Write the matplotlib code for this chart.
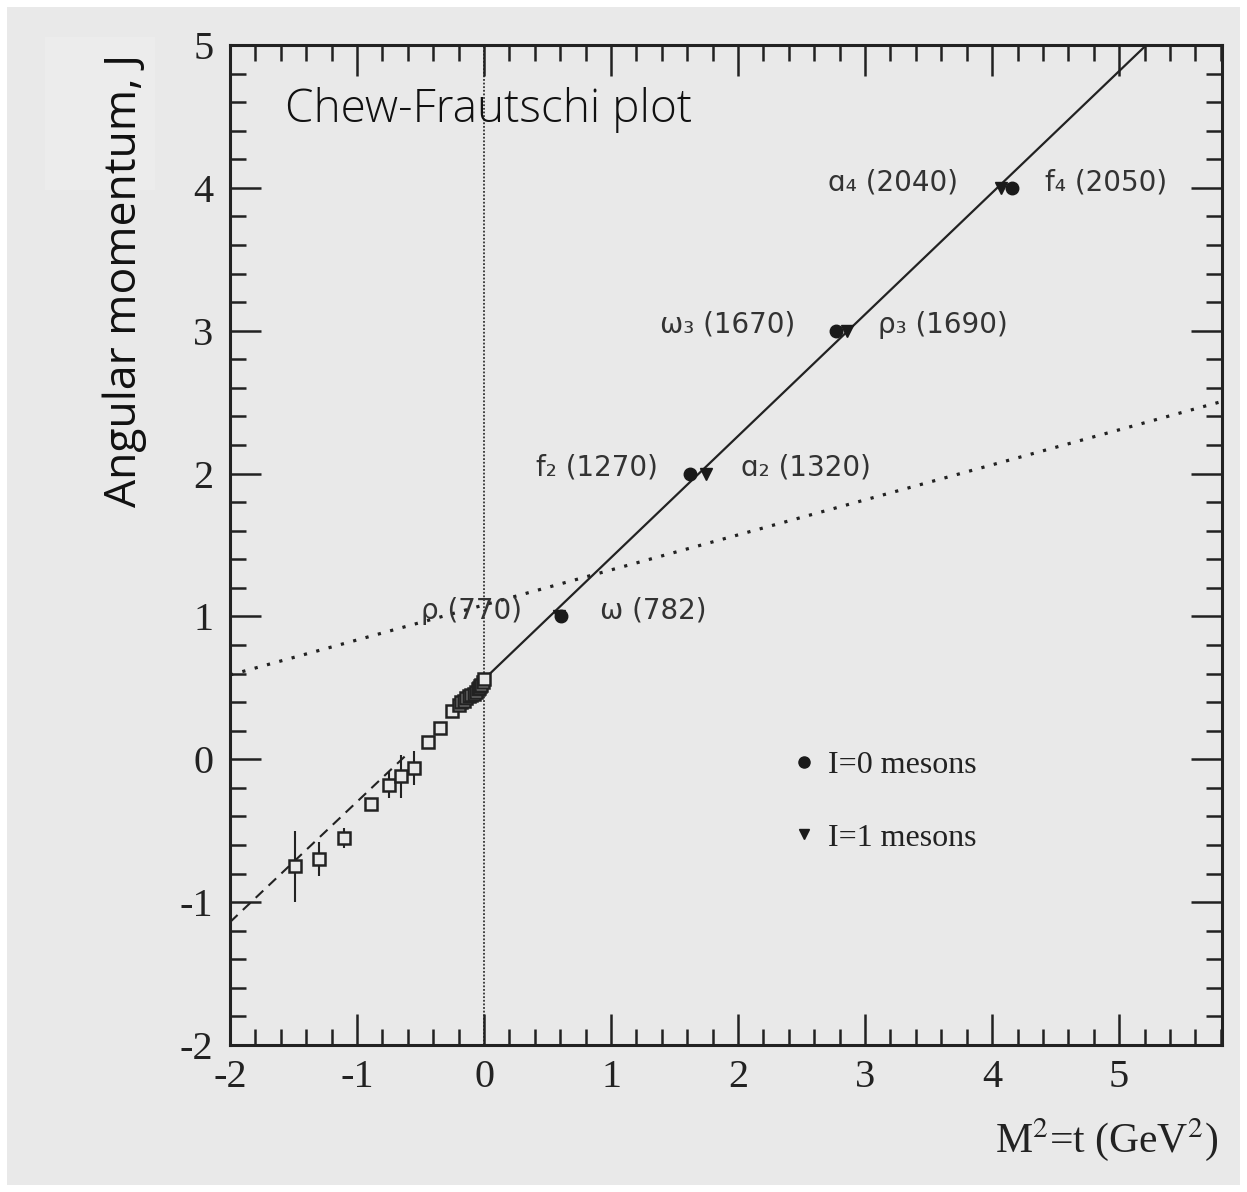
import matplotlib
matplotlib.use("Agg")
import matplotlib.pyplot as plt
import numpy as np
from matplotlib.lines import Line2D
from matplotlib.patches import Rectangle
from matplotlib.ticker import MultipleLocator

plt.rcParams["axes.unicode_minus"] = False

# scattering data (t < 0), open squares
t_data = [-1.49, -1.30, -1.10, -0.89, -0.75, -0.65, -0.55, -0.44, -0.35, -0.25,
          -0.20, -0.18, -0.16, -0.14, -0.12, -0.10, -0.08, -0.065, -0.05, -0.04,
          -0.03, -0.02, -0.01, 0.0]
j_data = [-0.75, -0.70, -0.55, -0.31, -0.18, -0.12, -0.06, 0.12, 0.22, 0.34,
          0.38, 0.40, 0.41, 0.43, 0.44, 0.45, 0.46, 0.47, 0.49, 0.50,
          0.51, 0.52, 0.54, 0.56]
j_err = [0.25, 0.12, 0.07, 0.03, 0.09, 0.15, 0.12, 0.02, 0.02, 0.02,
         0.02, 0.02, 0.02, 0.02, 0.02, 0.02, 0.02, 0.02, 0.02, 0.02,
         0.02, 0.02, 0.02, 0.02]

# mesons, M^2 in GeV^2
i0_m2 = [0.606, 1.62, 2.77, 4.16]
i0_j = [1, 2, 3, 4]
i1_m2 = [0.59, 1.75, 2.86, 4.07]
i1_j = [1, 2, 3, 4]

# trajectories (end points)
rho_t = [0.0, 5.25]
rho_j = [0.56, 5.03]
dash_t = [-2.0, -0.6]
dash_j = [-1.14, 0.04]
pom_t = [-2.0, 5.81]
pom_j = [0.59, 2.505]

labels_left = [("ρ (770)", 0.30, 1.04), ("f₂ (1270)", 1.37, 2.04),
               ("ω₃ (1670)", 2.45, 3.04), ("ɑ₄ (2040)", 3.73, 4.04)]
labels_right = [("ω (782)", 0.91, 1.04), ("ɑ₂ (1320)", 2.02, 2.04),
                ("ρ₃ (1690)", 3.10, 3.04), ("f₄ (2050)", 4.42, 4.04)]

bg = "#e9e9e9"
fig = plt.figure(figsize=(12.47, 11.92), dpi=100, facecolor="white")
fig.patches.append(Rectangle((0.006, 0.006), 0.988, 0.988, transform=fig.transFigure,
                             facecolor=bg, edgecolor="none", zorder=-10))
fig.patches.append(Rectangle((45 / 1247, 1 - 190 / 1192), 110 / 1247, 153 / 1192,
                             transform=fig.transFigure, facecolor="#ececec",
                             edgecolor="none", zorder=-9))
ax = fig.add_axes([230 / 1247, 147 / 1192, 992 / 1247, 1000 / 1192])
ax.set_facecolor(bg)

ax.set_xlim(-2, 5.81)
ax.set_ylim(-2, 5)

ax.axvline(0, color="#333333", lw=1.3, ls=(0, (1, 1)), zorder=1)
ax.plot(pom_t, pom_j, color="#222222", lw=2.3, ls=(0, (1, 3)), zorder=2)
ax.plot(rho_t, rho_j, color="#222222", lw=1.6, zorder=2)
ax.plot(dash_t, dash_j, color="#222222", lw=1.5, ls=(0, (5, 3.5)), zorder=2)

ax.errorbar(t_data, j_data, yerr=j_err, fmt="s", ms=9, mfc=bg, mec="#222222",
            mew=1.8, ecolor="#222222", elinewidth=1.5, capsize=0, zorder=3)

ax.plot(i1_m2, i1_j, "v", color="#1a1a1a", ms=8, zorder=4)
ax.plot(i0_m2, i0_j, "o", color="#1a1a1a", ms=9, zorder=4)

for txt, x, y in labels_left:
    ax.text(x, y, txt, ha="right", va="center", fontsize=20, color="#333333",
            family="DejaVu Sans")
for txt, x, y in labels_right:
    ax.text(x, y, txt, ha="left", va="center", fontsize=20, color="#333333",
            family="DejaVu Sans")

handles = [Line2D([], [], ls="none", marker="o", color="#1a1a1a", ms=8),
           Line2D([], [], ls="none", marker="v", color="#1a1a1a", ms=7)]
leg = ax.legend(handles, ["I=0 mesons", "I=1 mesons"], loc="upper left",
                bbox_to_anchor=(0.54, 0.323), frameon=False, handlelength=0.6,
                handletextpad=0.45, labelspacing=1.35,
                prop={"family": "Liberation Serif", "size": 23})
for t in leg.get_texts():
    t.set_color("#222222")

ax.text(0.055, 0.935, "Chew-Frautschi plot", transform=ax.transAxes,
        fontsize=33, family="Open Sans", fontweight="light", color="#111111",
        va="center", ha="left")

ax.xaxis.set_major_locator(MultipleLocator(1))
ax.xaxis.set_minor_locator(MultipleLocator(0.2))
ax.yaxis.set_major_locator(MultipleLocator(1))
ax.yaxis.set_minor_locator(MultipleLocator(0.2))
ax.tick_params(which="both", direction="in", top=True, right=True,
               color="#222222", width=1.8)
ax.tick_params(which="major", length=22)
ax.tick_params(which="minor", length=11.5)
ax.tick_params(axis="x", which="major", pad=10)
ax.tick_params(axis="y", which="major", pad=12)
for lab in ax.get_xticklabels() + ax.get_yticklabels():
    lab.set_family("Liberation Serif")
    lab.set_fontsize(29)
    lab.set_color("#222222")
for s in ax.spines.values():
    s.set_linewidth(2.2)
    s.set_color("#222222")

fig.text(1218 / 1247, 1 - 1140 / 1192, "M$^2$=t (GeV$^2$)", ha="right", va="center",
         fontsize=30, family="Liberation Serif", color="#222222",
         math_fontfamily="stix")
fig.text(125 / 1247, 1 - 280 / 1192, "Angular momentum, J", rotation=90,
         ha="center", va="center", fontsize=32, family="Open Sans", color="#111111")

fig.savefig("out.png", dpi=100, facecolor=fig.get_facecolor())
